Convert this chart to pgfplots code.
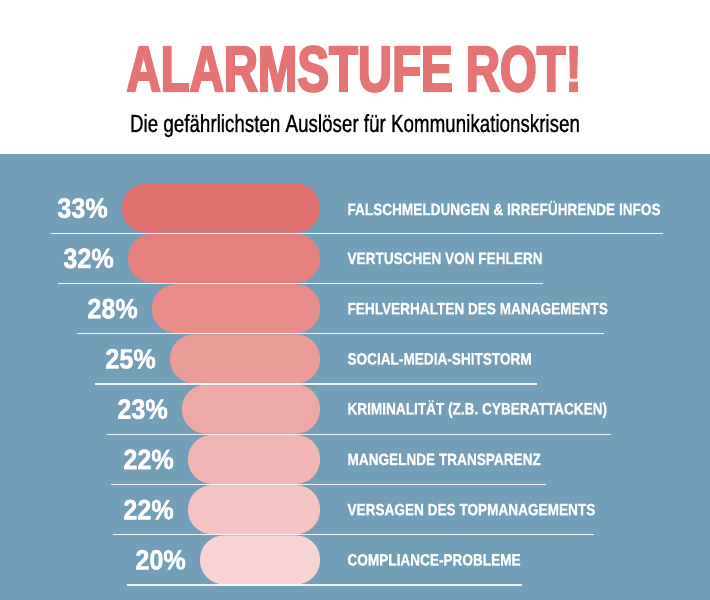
\documentclass[border=0pt]{standalone}
\usepackage{fontspec}
\setmainfont{Liberation Sans}
\newfontfamily\titlefont[FakeStretch=0.72,FakeBold=3]{Liberation Sans}
\newfontfamily\subfont[FakeStretch=0.76,FakeBold=0.6]{Liberation Sans}
\newfontfamily\labfont[FakeStretch=0.82,FakeBold=1]{Liberation Sans}
\newfontfamily\pctfont[FakeStretch=0.9,FakeBold=1.5]{Liberation Sans}
\usepackage{pgfplots}
\pgfplotsset{compat=1.18}
\definecolor{bgblue}{RGB}{115,158,184}
\definecolor{titlered}{RGB}{229,116,116}
\definecolor{c1}{RGB}{227,115,112}
\definecolor{c2}{RGB}{229,128,125}
\definecolor{c3}{RGB}{232,141,138}
\definecolor{c4}{RGB}{235,156,153}
\definecolor{c5}{RGB}{238,169,167}
\definecolor{c6}{RGB}{241,182,180}
\definecolor{c7}{RGB}{244,196,195}
\definecolor{c8}{RGB}{247,212,211}
\begin{document}
\begin{tikzpicture}[x=1pt,y=1pt]
\useasboundingbox (0,0) rectangle (710,600);
\fill[white] (0,0) rectangle (710,600);
\fill[bgblue] (0,0) rectangle (710,446);
\node[anchor=center,inner sep=0pt,text=titlered] at (354,531)
  {\resizebox{455pt}{45pt}{\titlefont\bfseries ALARMSTUFE ROT!}};
\node[anchor=base,inner sep=0pt,text=black] at (355,468)
  {\resizebox{450pt}{!}{\subfont\fontsize{24.7}{26}\selectfont Die gefährlichsten Auslöser für Kommunikationskrisen}};
\begin{axis}[
  at={(0pt,15pt)}, anchor=south west,
  scale only axis, width=320pt, height=402pt,
  xbar, x dir=reverse, y dir=reverse,
  xmin=0, xmax=53.333, ymin=0.5, ymax=8.5,
  axis line style={draw=none}, tick style={draw=none},
  xtick=\empty, ytick={1,...,8},
  yticklabel pos=right,
  yticklabels={FALSCHMELDUNGEN \& IRREFÜHRENDE INFOS, VERTUSCHEN VON FEHLERN, FEHLVERHALTEN DES MANAGEMENTS, SOCIAL-MEDIA-SHITSTORM, KRIMINALITÄT (Z.B. CYBERATTACKEN), MANGELNDE TRANSPARENZ, VERSAGEN DES TOPMANAGEMENTS, COMPLIANCE-PROBLEME},
  yticklabel style={anchor=west, inner sep=0pt, xshift=23pt, text=white, font=\labfont\bfseries\fontsize{16.6}{18}\selectfont},
  clip=false,
  bar width=49pt,
  every axis plot/.append style={draw=none, bar shift=0pt, rounded corners=24pt,
    nodes near coords={\pgfmathprintnumber[assume math mode=true]{\pgfplotspointmeta}\%},
    every node near coord/.append style={anchor=east, xshift=-14pt, inner sep=0pt, text=white, font=\pctfont\bfseries\fontsize{28}{30}\selectfont}},
]
\addplot[fill=c1] coordinates {(33,1)};
\addplot[fill=c2] coordinates {(32,2)};
\addplot[fill=c3] coordinates {(28,3)};
\addplot[fill=c4] coordinates {(25,4)};
\addplot[fill=c5] coordinates {(23,5)};
\addplot[fill=c6] coordinates {(22,6)};
\addplot[fill=c7] coordinates {(22,7)};
\addplot[fill=c8] coordinates {(20,8)};
\end{axis}
\begin{scope}[draw=white, line width=1.2pt, opacity=0.9]
\draw (50.7,366.75) -- (662.7,366.75);
\draw (58.3,316.5) -- (542.5,316.5);
\draw (77.3,266.25) -- (604.3,266.25);
\draw (95,216) -- (536.7,216);
\draw (106.7,165.75) -- (611,165.75);
\draw (111,115.5) -- (545.7,115.5);
\draw (113.3,65.25) -- (594.3,65.25);
\draw (126.7,15) -- (521.7,15);
\end{scope}
\end{tikzpicture}
\end{document}
